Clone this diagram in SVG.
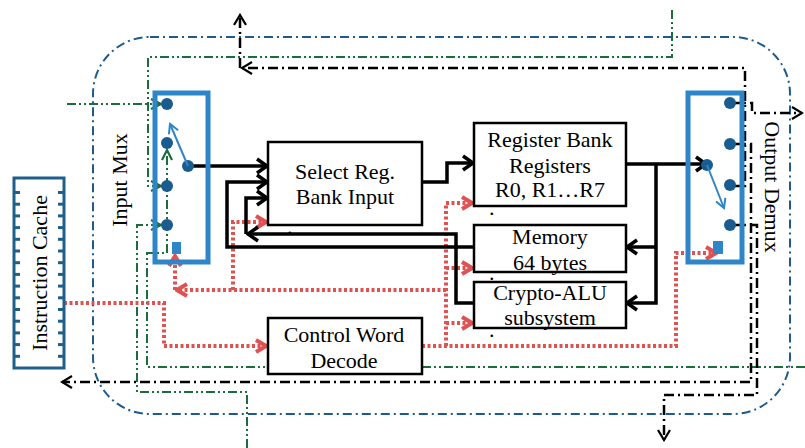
<svg xmlns="http://www.w3.org/2000/svg" width="805" height="448" viewBox="0 0 805 448">
<defs>
<style>
 text{font-family:"Liberation Serif","Times New Roman",serif;font-size:22px;fill:#000}
 .c{text-anchor:middle}
 .box{fill:#fff;stroke:#000;stroke-width:2.5}
 .bus{fill:none;stroke:#000;stroke-width:3.5}
 .ctl{fill:none;stroke:#e05252;stroke-width:4;stroke-dasharray:3 2.5}
 .grn{fill:none;stroke:#1b6e3c;stroke-width:2;stroke-dasharray:9 3 2 3 2 3}
 .ext{fill:none;stroke:#000;stroke-width:2.5;stroke-dasharray:10 4 2 4}
 .frame{fill:none;stroke:#1f5a8a;stroke-width:2;stroke-dasharray:9 4 2 4}
 .mux{fill:none;stroke:#2e86c8;stroke-width:5}
 .sw{fill:none;stroke:#2e86c8;stroke-width:2}
 .pin{fill:#1a5c8f}
 .sel{fill:#2e86c8}
 .cache{fill:#fff;stroke:#1f5f8b;stroke-width:3}
 .tick{fill:#1f5f8b}
</style>
<marker id="a-bus" markerUnits="userSpaceOnUse" viewBox="0 0 14 18" markerWidth="14" markerHeight="18" refX="12" refY="9" orient="auto">
 <path d="M2,2 L12,9 L2,16" fill="none" stroke="#000" stroke-width="3.5"/>
</marker>
<marker id="a-ctl" markerUnits="userSpaceOnUse" viewBox="0 0 14 16" markerWidth="14" markerHeight="16" refX="12" refY="8" orient="auto">
 <path d="M2,2 L12,8 L2,14" fill="none" stroke="#e05252" stroke-width="4"/>
</marker>
<marker id="a-grn" markerUnits="userSpaceOnUse" viewBox="0 0 14 14" markerWidth="14" markerHeight="14" refX="12" refY="7" orient="auto">
 <path d="M2,2 L12,7 L2,12" fill="none" stroke="#1b6e3c" stroke-width="2.2"/>
</marker>
<marker id="a-ext" markerUnits="userSpaceOnUse" viewBox="0 0 14 16" markerWidth="14" markerHeight="16" refX="12" refY="8" orient="auto">
 <path d="M2,2 L12,8 L2,14" fill="none" stroke="#000" stroke-width="2.2"/>
</marker>
<marker id="a-sw" markerUnits="userSpaceOnUse" viewBox="0 0 12 12" markerWidth="12" markerHeight="12" refX="10" refY="6" orient="auto">
 <path d="M1,1 L10,6 L1,11" fill="none" stroke="#2e86c8" stroke-width="2"/>
</marker>
</defs>

<!-- enclosing boundary -->
<rect class="frame" x="93" y="37" width="697" height="377" rx="57" ry="57"/>

<g id="connectors">
 <!-- external select lines (green) -->
 <path class="grn" d="M672,10 V57 H148 V186 H161" marker-end="url(#a-grn)"/>
 <path class="grn" d="M67,104 H161" marker-end="url(#a-grn)"/>
 <path class="grn" d="M805,367 H147 V253 H167 V150" marker-end="url(#a-grn)"/>
 <path class="grn" d="M247,448 V392 H137 V225 H161" marker-end="url(#a-grn)"/>

 <!-- demux outputs (black dash-dot) -->
 <path class="ext" d="M730,186 H745 V68 H242" marker-end="url(#a-ext)"/>
 <path class="ext" d="M240,68 V15" marker-end="url(#a-ext)"/>
 <path class="ext" d="M730,103 H752 V113 H802" marker-end="url(#a-ext)"/>
 <path class="ext" d="M730,144 H751 V382 H62" marker-end="url(#a-ext)"/>
 <path class="ext" d="M730,225 H757 V395 H664 V440" marker-end="url(#a-ext)"/>

 <!-- control lines (red dotted) -->
 <path class="ctl" d="M64,303 H164 V346 H266" marker-end="url(#a-ctl)"/>
 <path class="ctl" d="M422,346 H676 V253 H716" marker-end="url(#a-ctl)"/>
 <path class="ctl" d="M446,346 V203 H472" marker-end="url(#a-ctl)"/>
 <path class="ctl" d="M446,268 H472" marker-end="url(#a-ctl)"/>
 <path class="ctl" d="M446,323 H472" marker-end="url(#a-ctl)"/>
 <path class="ctl" d="M446,290 H177" marker-end="url(#a-ctl)"/>
 <path class="ctl" d="M175,290 V256" marker-end="url(#a-ctl)"/>
 <path class="ctl" d="M233,290 V222 H266" marker-end="url(#a-ctl)"/>

 <!-- data buses (black) -->
 <path class="bus" d="M188,166 H267" marker-end="url(#a-bus)"/>
 <path class="bus" d="M474,247 H227 V182 H267" marker-end="url(#a-bus)"/>
 <path class="bus" d="M474,303 H456 V234 H248" marker-end="url(#a-bus)"/>
 <path class="bus" d="M246,234 V198 H267" marker-end="url(#a-bus)"/>
 <path class="bus" d="M422,182 H447 V163 H473" marker-end="url(#a-bus)"/>
 <path class="bus" d="M626,164 H706" marker-end="url(#a-bus)"/>
 <path class="bus" d="M656,164 V303 H627" marker-end="url(#a-bus)"/>
 <path class="bus" d="M656,247 H627" marker-end="url(#a-bus)"/>
</g>

<g id="instruction-cache">
 <rect class="cache" x="14" y="178" width="50" height="190"/>
 <g class="tick">
  <rect x="14" y="191" width="6" height="3"/><rect x="58" y="191" width="6" height="3"/>
  <rect x="14" y="202.7" width="6" height="3"/><rect x="58" y="202.7" width="6" height="3"/>
  <rect x="14" y="214.4" width="6" height="3"/><rect x="58" y="214.4" width="6" height="3"/>
  <rect x="14" y="226.1" width="6" height="3"/><rect x="58" y="226.1" width="6" height="3"/>
  <rect x="14" y="237.8" width="6" height="3"/><rect x="58" y="237.8" width="6" height="3"/>
  <rect x="14" y="249.5" width="6" height="3"/><rect x="58" y="249.5" width="6" height="3"/>
  <rect x="14" y="261.2" width="6" height="3"/><rect x="58" y="261.2" width="6" height="3"/>
  <rect x="14" y="272.9" width="6" height="3"/><rect x="58" y="272.9" width="6" height="3"/>
  <rect x="14" y="284.6" width="6" height="3"/><rect x="58" y="284.6" width="6" height="3"/>
  <rect x="14" y="296.3" width="6" height="3"/><rect x="58" y="296.3" width="6" height="3"/>
  <rect x="14" y="308" width="6" height="3"/><rect x="58" y="308" width="6" height="3"/>
  <rect x="14" y="319.7" width="6" height="3"/><rect x="58" y="319.7" width="6" height="3"/>
  <rect x="14" y="331.4" width="6" height="3"/><rect x="58" y="331.4" width="6" height="3"/>
  <rect x="14" y="343.1" width="6" height="3"/><rect x="58" y="343.1" width="6" height="3"/>
  <rect x="14" y="354.8" width="6" height="3"/><rect x="58" y="354.8" width="6" height="3"/>
 </g>
 <text class="c" font-size="20" transform="translate(47,273) rotate(-90)">Instruction Cache</text>
</g>

<g id="input-mux">
 <rect class="mux" x="155" y="93" width="53" height="169"/>
 <circle class="pin" cx="167" cy="104" r="6"/>
 <circle class="pin" cx="167" cy="143" r="6"/>
 <circle class="pin" cx="167" cy="186" r="6"/>
 <circle class="pin" cx="167" cy="225" r="6"/>
 <circle class="pin" cx="188" cy="166" r="6"/>
 <rect class="sel" x="172" y="242" width="9" height="12"/>
 <path class="sw" d="M188,166 L170,124" marker-end="url(#a-sw)"/>
 <text class="c" transform="translate(127,180) rotate(-90)">Input Mux</text>
</g>

<g id="select-input">
 <rect class="box" x="268" y="142" width="154" height="83"/>
 <text class="c" x="345" y="179">Select Reg.</text>
 <text class="c" x="345" y="204">Bank Input</text>
</g>

<g id="register-bank">
 <rect class="box" x="474" y="123" width="152" height="83"/>
 <text class="c" x="550" y="147">Register Bank</text>
 <text class="c" x="550" y="173">Registers</text>
 <text class="c" x="550" y="197">R0, R1…R7</text>
</g>

<g id="memory">
 <rect class="box" x="474" y="225" width="152" height="47"/>
 <text class="c" x="550" y="244">Memory</text>
 <text class="c" x="550" y="270">64 bytes</text>
</g>

<g id="crypto-alu">
 <rect class="box" x="474" y="282" width="152" height="46"/>
 <text class="c" x="550" y="300">Crypto-ALU</text>
 <text class="c" x="550" y="325">subsystem</text>
</g>

<g id="control-decode">
 <rect class="box" x="268" y="318" width="154" height="56"/>
 <text class="c" x="344" y="342">Control Word</text>
 <text class="c" x="344" y="368">Decode</text>
</g>

<g id="output-demux">
 <rect class="mux" x="688" y="93" width="54" height="169"/>
 <circle class="pin" cx="730" cy="103" r="6"/>
 <circle class="pin" cx="730" cy="144" r="6"/>
 <circle class="pin" cx="730" cy="185" r="6"/>
 <circle class="pin" cx="730" cy="225" r="6"/>
 <circle class="pin" cx="707" cy="165" r="6"/>
 <rect class="sel" x="713" y="241" width="10" height="13"/>
 <path class="sw" d="M707,165 L724,208" marker-end="url(#a-sw)"/>
 <text class="c" font-size="23.5" transform="translate(765,187) rotate(90)">Output Demux</text>
</g>

<g id="stray-marks">
 <text x="287" y="234">.</text>
 <text x="489" y="215">.</text>
 <text x="489" y="280">.</text>
 <text x="489" y="337">.</text>
</g>
</svg>
